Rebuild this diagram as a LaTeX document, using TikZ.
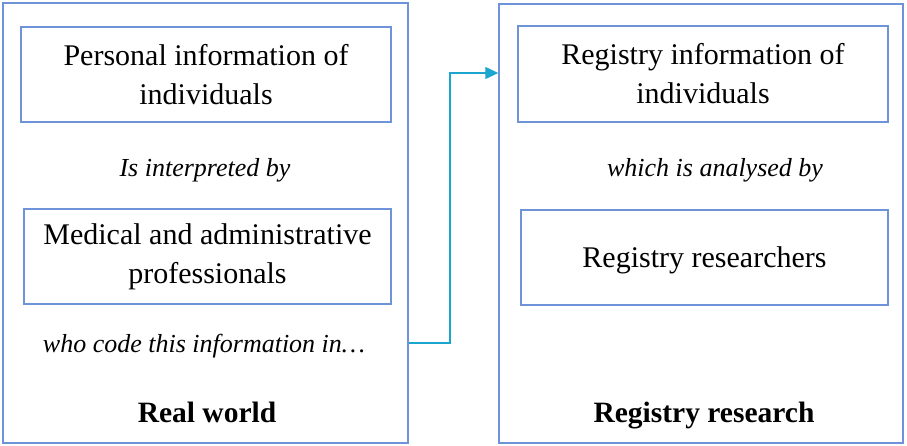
\documentclass[tikz,border=0pt]{standalone}
\usepackage{fontspec}
\setmainfont{Liberation Serif}
\usetikzlibrary{arrows.meta}
\definecolor{frameblue}{HTML}{6F93D8}
\definecolor{linkcyan}{HTML}{1BA6CF}
\begin{document}
\begin{tikzpicture}[x=1pt,y=-1pt,
  panel/.style={draw=frameblue,line width=1.4pt,rectangle,inner sep=0pt},
  itembox/.style={panel,align=center,font=\fontsize{30}{39}\selectfont},
  note/.style={inner sep=0pt,anchor=base,font=\fontsize{26}{32}\selectfont\itshape},
  heading/.style={inner sep=0pt,anchor=base,font=\fontsize{29.5}{35}\selectfont\bfseries},
  link/.style={draw=linkcyan,line width=1.3pt,-{Triangle[length=13pt,width=12pt]}}]
\useasboundingbox (0,0) rectangle (907,445);

% two outer panels
\node[panel,minimum width=405pt,minimum height=440pt] (real) at (205.5,223) {};
\node[panel,minimum width=404pt,minimum height=439pt] (research) at (701,223.5) {};

% left panel contents
\node[itembox,minimum width=370pt,minimum height=95pt] (personal) at (206,74.5)
  {Personal information of\\individuals};
\node[note] (interp) at (205,176) {Is interpreted by};
\node[itembox,minimum width=367pt,minimum height=95pt] (profs) at (207.5,256.5)
  {Medical and administrative\\professionals};
\node[note] (code) at (204,352) {who code this information in…};
\node[heading] (realtitle) at (207,422) {Real world};

% right panel contents
\node[itembox,minimum width=370pt,minimum height=96pt] (reginfo) at (703,74)
  {Registry information of\\individuals};
\node[note] (analysed) at (715,176) {which is analysed by};
\node[itembox,minimum width=367pt,minimum height=95pt,text depth=0pt] (researchers) at (704.5,257.5)
  {Registry researchers};
\node[heading] (restitle) at (704,422) {Registry research};

% elbow connector between the panels
\coordinate (linkstart) at (real.east |- 0,343);
\coordinate (linkbend) at (450,343);
\coordinate (linkend) at (research.west |- 0,73);
\draw[link] (linkstart) -- (linkbend) |- (linkend);
\end{tikzpicture}
\end{document}
